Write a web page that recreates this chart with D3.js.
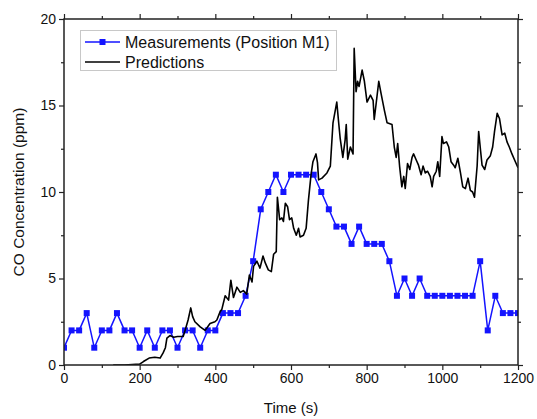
<!DOCTYPE html>
<html>
<head>
<meta charset="utf-8">
<script src="https://cdn.jsdelivr.net/npm/d3@7"></script>
<style>
  body { margin: 0; background: #fff; }
  svg { display: block; font-family: "Liberation Sans", Arial, sans-serif; }
</style>
</head>
<body>
<div id="chart"></div>
<script>
const width = 537
const height = 419

// measurements every 20 s (Position M1)
const measTimes = d3.range(0, 1201, 20)
const measValues = [1, 2, 2, 3, 1, 2, 2, 3, 2, 2, 1, 2, 1, 2, 2, 1, 2, 2, 1, 2, 2,
    3, 3, 3, 4, 6, 9, 10, 11, 10, 11, 11, 11, 11, 10, 9, 8, 8, 7, 8, 7, 7, 7,
    6, 4, 5, 4, 5, 4, 4, 4, 4, 4, 4, 4, 6, 2, 4, 3, 3, 3]

// predictions
const predTimes = [130, 160, 200, 210, 225, 240, 254, 262, 268, 272, 280, 290, 300, 315, 320, 328, 335, 340, 346, 360,
    373, 386, 399, 404, 413, 417, 426, 435, 441, 448, 457, 466, 474, 483, 490, 497, 501, 510, 518, 526,
    532, 540, 548, 554, 561, 564, 570, 576, 580, 585, 591, 596, 602, 607, 614, 620, 624, 633, 640, 646,
    653, 658, 666, 670, 673, 682, 695, 704, 711, 721, 726,
    730, 737, 743, 746, 750, 757, 764, 767, 772, 776, 780, 788, 794, 801, 810, 817, 820, 825, 832, 838,
    847, 854, 867, 873, 878, 882, 887, 893, 898, 902, 908, 914, 920, 924, 931, 937, 944, 949, 955, 961,
    968, 973, 977, 984, 988, 993, 999, 1003, 1011, 1017, 1023, 1030, 1034, 1041, 1048, 1054, 1061, 1068, 1074, 1080,
    1085, 1092, 1096, 1101, 1105, 1112, 1118, 1127, 1133, 1138, 1145, 1151, 1158, 1165, 1171, 1177, 1184, 1193, 1200]
const predValues = [0, 0, 0.05, 0.2, 0.4, 0.45, 0.4, 0.7, 1.0, 1.55, 1.7, 1.6, 1.65, 1.65, 2.0, 2.6, 3.3, 2.8, 2.5, 2.2,
    2.0, 2.4, 2.5, 2.6, 3.1, 3.2, 4.0, 3.75, 4.9, 3.9, 4.5, 4.2, 4.3, 4.1, 5.2, 4.8, 5.7, 6.0, 5.6, 6.3,
    5.9, 5.5, 5.4, 6.4, 6.55, 9.7, 8.4, 8.5, 8.3, 9.35, 9.15, 8.4, 8.5, 7.9, 7.5, 7.9, 7.4, 7.5, 7.9, 9.5,
    11.0, 11.75, 12.2, 11.7, 10.7, 10.8, 11.1, 11.5, 14.0, 15.2, 14.0,
    13.1, 12.0, 13.0, 13.9, 11.9, 12.6, 12.2, 18.3, 15.8, 16.4, 16.1, 17.05, 16.4, 15.2, 15.6, 15.3, 14.2, 15.1, 16.4, 15.7,
    14.7, 14.0, 13.9, 12.6, 12.0, 12.8, 11.5, 10.3, 10.9, 10.2, 11.65, 11.3, 12.0, 12.2, 11.85, 11.55, 11.0, 11.5, 11.1, 11.2,
    10.9, 10.3, 10.9, 11.2, 11.75, 10.9, 13.2, 12.8, 12.9, 12.6, 11.75, 11.55, 11.4, 11.95, 11.1, 10.3, 10.2, 10.8, 10.1, 10.0,
    9.7, 11.5, 13.5, 12.4, 11.55, 11.3, 11.85, 12.1, 12.6, 13.5, 14.55, 14.25, 13.3, 13.4, 12.9, 12.6, 12.2, 11.75, 11.4]

const xTicks = [0, 200, 400, 600, 800, 1000, 1200]
const xMinor = [100, 300, 500, 700, 900, 1100]
const yTicks = [0, 5, 10, 15, 20]
const yMinor = [2.5, 7.5, 12.5, 17.5]

const seriesNames = ['Measurements (Position M1)', 'Predictions']
const blue = '#1414ff'

const margin = {left: 64, right: 19, top: 19, bottom: 54}

let svg = d3.select('#chart')
    .append('svg')
    .attr('width', width)
    .attr('height', height)

let x = d3.scaleLinear().domain([0, 1200]).range([margin.left, width - margin.right])
let y = d3.scaleLinear().domain([0, 20]).range([height - margin.bottom, margin.top])

// axes, ticks pointing outward on all four sides
let axisGroup = svg.append('g')

let addAxis = (gen, transform, vals, size, labels) => {
    let g = axisGroup.append('g')
        .attr('transform', transform)
        .call(gen.tickValues(vals).tickSize(size).tickSizeOuter(0).tickPadding(3)
            .tickFormat(labels ? d3.format('d') : ''))
    g.select('.domain').remove()
    g.selectAll('line').attr('stroke', '#222').attr('stroke-width', 1.2)
    g.selectAll('text').attr('font-size', 14).attr('fill', '#111')
    return g
}

const bottomY = y(0), topY = y(20), leftX = x(0), rightX = x(1200)

addAxis(d3.axisBottom(x), `translate(0,${bottomY})`, xTicks, 5, true)
addAxis(d3.axisBottom(x), `translate(0,${bottomY})`, xMinor, 3, false)
addAxis(d3.axisTop(x), `translate(0,${topY})`, xTicks, 5, false)
addAxis(d3.axisTop(x), `translate(0,${topY})`, xMinor, 3, false)
addAxis(d3.axisLeft(y), `translate(${leftX},0)`, yTicks, 5, true)
addAxis(d3.axisLeft(y), `translate(${leftX},0)`, yMinor, 3, false)
addAxis(d3.axisRight(y), `translate(${rightX},0)`, yTicks, 5, false)
addAxis(d3.axisRight(y), `translate(${rightX},0)`, yMinor, 3, false)

// clip the data to the frame
svg.append('clipPath').attr('id', 'plotclip')
    .append('rect')
    .attr('x', leftX).attr('y', topY)
    .attr('width', rightX - leftX).attr('height', bottomY - topY)

let plot = svg.append('g').attr('clip-path', 'url(#plotclip)')

let line = d3.line().x(d => x(d[0])).y(d => y(d[1]))

let predData = predTimes.map((t, i) => [t, predValues[i]])
let measData = measTimes.map((t, i) => [t, measValues[i]])

plot.append('path')
    .datum(measData)
    .attr('fill', 'none')
    .attr('stroke', blue)
    .attr('stroke-width', 1.5)
    .attr('d', line)

plot.append('g')
    .selectAll('rect')
    .data(measData)
    .join('rect')
    .attr('x', d => x(d[0]) - 3)
    .attr('y', d => y(d[1]) - 3)
    .attr('width', 6)
    .attr('height', 6)
    .attr('fill', blue)

plot.append('path')
    .datum(predData)
    .attr('fill', 'none')
    .attr('stroke', '#000')
    .attr('stroke-width', 1.6)
    .attr('stroke-linejoin', 'round')
    .attr('d', line)

// frame on top
svg.append('rect')
    .attr('x', leftX).attr('y', topY)
    .attr('width', rightX - leftX).attr('height', bottomY - topY)
    .attr('fill', 'none')
    .attr('stroke', '#222')
    .attr('stroke-width', 1.5)

// axis titles
svg.append('text')
    .attr('x', (leftX + rightX) / 2)
    .attr('y', 413)
    .attr('text-anchor', 'middle')
    .attr('font-size', 15)
    .attr('fill', '#111')
    .text('Time (s)')

svg.append('text')
    .attr('transform', `translate(24,${(topY + bottomY) / 2}) rotate(-90)`)
    .attr('text-anchor', 'middle')
    .attr('font-size', 15.5)
    .attr('fill', '#111')
    .text('CO Concentration (ppm)')

// legend
let legend = svg.append('g')
legend.append('rect')
    .attr('x', 80.5).attr('y', 30.5)
    .attr('width', 256).attr('height', 40)
    .attr('fill', '#fff')
    .attr('stroke', '#c8c8c8')
    .attr('stroke-width', 1)

let rows = [42, 62]
legend.append('line')
    .attr('x1', 85).attr('x2', 120).attr('y1', rows[0]).attr('y2', rows[0])
    .attr('stroke', blue).attr('stroke-width', 1.5)
legend.append('rect')
    .attr('x', 99.5).attr('y', rows[0] - 3).attr('width', 6).attr('height', 6)
    .attr('fill', blue)
legend.append('line')
    .attr('x1', 85).attr('x2', 120).attr('y1', rows[1]).attr('y2', rows[1])
    .attr('stroke', '#000').attr('stroke-width', 1.5)

legend.selectAll('text.lbl')
    .data(seriesNames)
    .join('text')
    .attr('class', 'lbl')
    .attr('x', 125)
    .attr('y', (d, i) => rows[i] + 5.5)
    .attr('font-size', 16)
    .attr('fill', '#111')
    .text(d => d)
</script>
</body>
</html>
